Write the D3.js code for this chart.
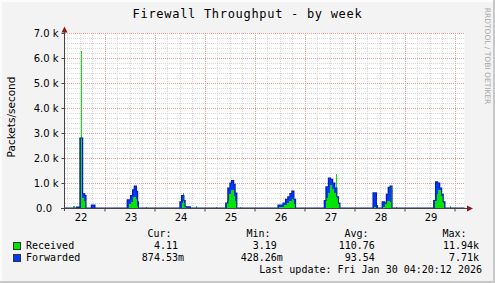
<!DOCTYPE html>
<html>
<head>
<meta charset="utf-8">
<script src="https://cdn.jsdelivr.net/npm/d3@7"></script>
<style>
html, body { margin: 0; padding: 0; background: #f3f3f3; }
svg { display: block; }
text { font-family: "DejaVu Sans", sans-serif; fill: #000; }
.mono { font-family: "DejaVu Sans Mono", monospace; white-space: pre; }
</style>
</head>
<body>
<svg id="chart" width="495" height="283"></svg>
<script>
// chart texts
const title = "Firewall Throughput - by week";
const yLabel = "Packets/second";
const watermark = "RRDTOOL / TOBI OETIKER";
const dayLabels = [22, 23, 24, 25, 26, 27, 28, 29];
const yTicks = [0, 1000, 2000, 3000, 4000, 5000, 6000, 7000];

// steps: [hours since Jan 22 00:00, packets/second], value holds until next step
const received = [
	[8.7, 80], [9.7, 0], [12.6, 6280], [13.3, 400], [14.2, 300], [14.9, 0],
	[35.9, 150], [36.9, 250], [37.9, 450], [38.9, 350], [39.7, 100], [40.2, 0],
	[44.1, 60], [44.6, 0],
	[61.0, 200], [61.6, 600], [62.0, 200], [62.5, 50], [63.2, 0],
	[68.1, 100], [68.6, 0], [77.5, 40], [78.0, 0],
	[83.0, 300], [83.9, 550], [84.9, 720], [86.0, 500], [86.7, 300], [87.5, 0],
	[89.0, 40], [89.5, 0],
	[107.7, 60], [110.2, 120], [111.5, 220], [112.7, 300], [114.0, 380], [115.0, 150], [115.7, 0],
	[130.2, 400], [131.2, 600], [132.0, 920], [133.0, 750], [134.2, 600], [134.9, 1350], [135.4, 400], [136.3, 150], [137.0, 0],
	[153.5, 50], [154.3, 0], [157.5, 60], [158.7, 150], [159.7, 300], [161.0, 250], [161.5, 900], [162.0, 0],
	[163.9, 50], [164.4, 0],
	[182.7, 300], [183.5, 550], [184.3, 720], [185.5, 500], [186.3, 200], [187.1, 0],
	[189.8, 80], [190.3, 0]
];
const forwarded = [
	[10.6, 40], [11.6, 0], [12.2, 2800], [13.5, 570], [14.5, 500], [15.1, 0], [17.7, 120], [19.4, 0],
	[34.9, 330], [36.5, 500], [37.5, 730], [38.3, 880], [39.3, 670], [39.9, 250], [40.3, 0],
	[60.2, 250], [61.0, 500], [62.1, 300], [62.7, 50], [65.2, 0],
	[82.2, 200], [83.2, 800], [84.2, 1000], [85.0, 1100], [86.0, 950], [86.7, 600], [87.5, 0],
	[107.3, 120], [109.7, 200], [110.9, 350], [112.0, 450], [113.0, 580], [113.9, 680], [114.9, 350], [115.7, 0],
	[129.5, 300], [130.3, 850], [131.5, 1200], [132.5, 1150], [133.5, 1000], [134.5, 800], [135.5, 450], [136.3, 200], [137.0, 0],
	[152.9, 610], [154.5, 100], [155.0, 0], [157.3, 250], [158.5, 200], [159.3, 550], [160.2, 830], [161.1, 880], [162.0, 0],
	[182.0, 300], [182.9, 1050], [183.9, 1000], [184.9, 800], [185.8, 550], [186.6, 250], [187.4, 0]
];

// legend
const seriesNames = ["Received", "Forwarded"];
const statNames = ["Cur:", "Min:", "Avg:", "Max:"];
const receivedStats = [4.11, 3.19, 110.76, 11940];
const forwardedStats = [0.87453, 0.42826, 93.54, 7710];
const lastUpdate = "Last update: Fri Jan 30 04:20:12 2026";

const green = "#00e600", blue = "#0038ff", blueLine = "#0a1fa8";

let svg = d3.select("#chart");
const t0 = new Date(2026, 0, 22);
let hour = h => new Date(+t0 + h * 3600e3);
const startH = 4.8, endH = 196.8;

var x = d3.scaleTime().domain([hour(startH), hour(endH)]).range([64.5, 464.5]);
var y = d3.scaleLinear().domain([0, 7000]).range([208, 33]);

// frame
svg.append("rect").attr("width", 495).attr("height", 283).attr("fill", "#f3f3f3");
svg.append("path").attr("d", "M0,1H495M1,0V283").attr("stroke", "#fcfcfc").attr("stroke-width", 2);
svg.append("path").attr("d", "M0,282H495M494,0V283").attr("stroke", "#c8c8c8").attr("stroke-width", 2);

// canvas
svg.append("rect")
	.attr("x", x.range()[0]).attr("y", y(7000))
	.attr("width", x.range()[1] - x.range()[0]).attr("height", y(0) - y(7000))
	.attr("fill", "#fff");

// grid
let grid = svg.append("g").attr("shape-rendering", "crispEdges").attr("stroke-dasharray", "1,1");
let minorY = d3.range(200, 7001, 200).filter(v => v % 1000 !== 0);
let majorY = yTicks.filter(v => v > 0);
let minorX = d3.range(6, endH, 6).filter(h => h % 24 !== 0 && h > startH);
let majorX = d3.range(24, endH, 24);

grid.selectAll(".hmin").data(minorY).enter().append("line")
	.attr("x1", 64.5).attr("x2", 464.5)
	.attr("y1", d => Math.round(y(d)) + 0.5).attr("y2", d => Math.round(y(d)) + 0.5)
	.attr("stroke", "#d8d8d8");
grid.selectAll(".vmin").data(minorX).enter().append("line")
	.attr("x1", d => Math.round(x(hour(d))) + 0.5).attr("x2", d => Math.round(x(hour(d))) + 0.5)
	.attr("y1", y(7000)).attr("y2", y(0))
	.attr("stroke", "#d8d8d8");
grid.selectAll(".hmaj").data(majorY).enter().append("line")
	.attr("x1", 64.5).attr("x2", 464.5)
	.attr("y1", d => Math.round(y(d)) + 0.5).attr("y2", d => Math.round(y(d)) + 0.5)
	.attr("stroke", "#f09a9a");
grid.selectAll(".vmaj").data(majorX).enter().append("line")
	.attr("x1", d => Math.round(x(hour(d))) + 0.5).attr("x2", d => Math.round(x(hour(d))) + 0.5)
	.attr("y1", y(7000)).attr("y2", y(0))
	.attr("stroke", "#f09a9a");

// series
let full = s => [[startH, 0]].concat(s, [[endH, 0]]);
let area = d3.area().curve(d3.curveStepAfter)
	.x(d => x(hour(d[0]))).y0(y(0)).y1(d => y(d[1]));
let line = d3.line().curve(d3.curveStepAfter)
	.x(d => x(hour(d[0]))).y(d => y(d[1]));

svg.append("path").datum(full(forwarded)).attr("d", area)
	.attr("fill", blue).attr("shape-rendering", "crispEdges");
svg.append("path").datum(full(received)).attr("d", area)
	.attr("fill", green).attr("shape-rendering", "crispEdges");
svg.append("path").datum(full(forwarded)).attr("d", line)
	.attr("fill", "none").attr("stroke", blueLine).attr("stroke-width", 1.2);

// y axis
let yAxis = svg.append("g").attr("transform", "translate(64.5,0)").style("color", "#444")
	.call(d3.axisLeft(y).tickValues(yTicks).tickSize(3).tickPadding(3)
		.tickFormat(d => d === 0 ? "0.0" : d3.format(".1f")(d / 1000) + " k"));
yAxis.select(".domain").remove();
yAxis.selectAll("text").style("font-size", "10px").attr("fill", "#000")
	.filter(d => d === 0).attr("x", -12.5);

// x axis: midnight ticks and noon labels
let xTicks = svg.append("g").attr("transform", "translate(0,208.5)").style("color", "#444")
	.call(d3.axisBottom(x).tickValues(majorX.map(hour)).tickSize(3).tickFormat(""));
xTicks.select(".domain").remove();

let xAxis = svg.append("g").attr("transform", "translate(0,208)")
	.call(d3.axisBottom(x).tickValues(dayLabels.map(d => hour((d - 22) * 24 + 12)))
		.tickSize(0).tickFormat((d, i) => dayLabels[i]));
xAxis.select(".domain").remove();
xAxis.selectAll("text").attr("y", 13).attr("dy", null).attr("dx", 1)
	.style("font-size", "10px").attr("fill", "#000");

// axis lines and arrows
svg.append("path").attr("d", "M64.5,211V30M61,208.5H468")
	.attr("stroke", "#444").attr("fill", "none");
svg.append("path").attr("d", "M64.5,26.5L61.5,32.5H67.5Z").attr("fill", "#8b1a1a");
svg.append("path").attr("d", "M473,208.5L467,205.5V211.5Z").attr("fill", "#8b1a1a");

// titles
svg.append("text").attr("class", "mono").attr("x", 247.5).attr("y", 17.7)
	.attr("text-anchor", "middle").style("font-size", "12px").style("letter-spacing", "0.7px")
	.text(title);
svg.append("text").attr("transform", "translate(14.5,117) rotate(-90)")
	.attr("text-anchor", "middle").style("font-size", "10.5px").text(yLabel);
svg.append("text").attr("transform", "translate(485,56) rotate(90)")
	.attr("text-anchor", "middle").style("font-size", "7.5px")
	.style("fill", "#a6a6a6").text(watermark);

// legend
let fmt = v => v >= 1000 ? (v / 1000).toFixed(2) + "k"
	: v < 1 ? (v * 1000).toFixed(2) + "m" : v.toFixed(2) + " ";
let headX = [147.5, 246.5, 344.5, 442.5];
let valX = [184, 282.8, 380.8, 479];
let legend = svg.append("g").attr("class", "mono").style("font-size", "10px");

legend.selectAll(".head").data(statNames).enter().append("text")
	.attr("class", "mono").attr("x", (d, i) => headX[i]).attr("y", 237).text(d => d);

[[received, receivedStats, green], [forwarded, forwardedStats, blue]].forEach((s, r) => {
	let yy = 249 + r * 12;
	legend.append("rect").attr("x", 13.5).attr("y", yy - 6.5).attr("width", 7).attr("height", 7)
		.attr("fill", s[2]).attr("stroke", "#333");
	legend.append("text").attr("class", "mono").attr("x", 26).attr("y", yy).text(seriesNames[r]);
	legend.selectAll(".v" + r).data(s[1]).enter().append("text")
		.attr("class", "mono").attr("x", (d, i) => valX[i]).attr("y", yy)
		.attr("text-anchor", "end").text(d => fmt(d));
});

legend.append("text").attr("class", "mono").attr("x", 482).attr("y", 273)
	.attr("text-anchor", "end").text(lastUpdate);
</script>
</body>
</html>
